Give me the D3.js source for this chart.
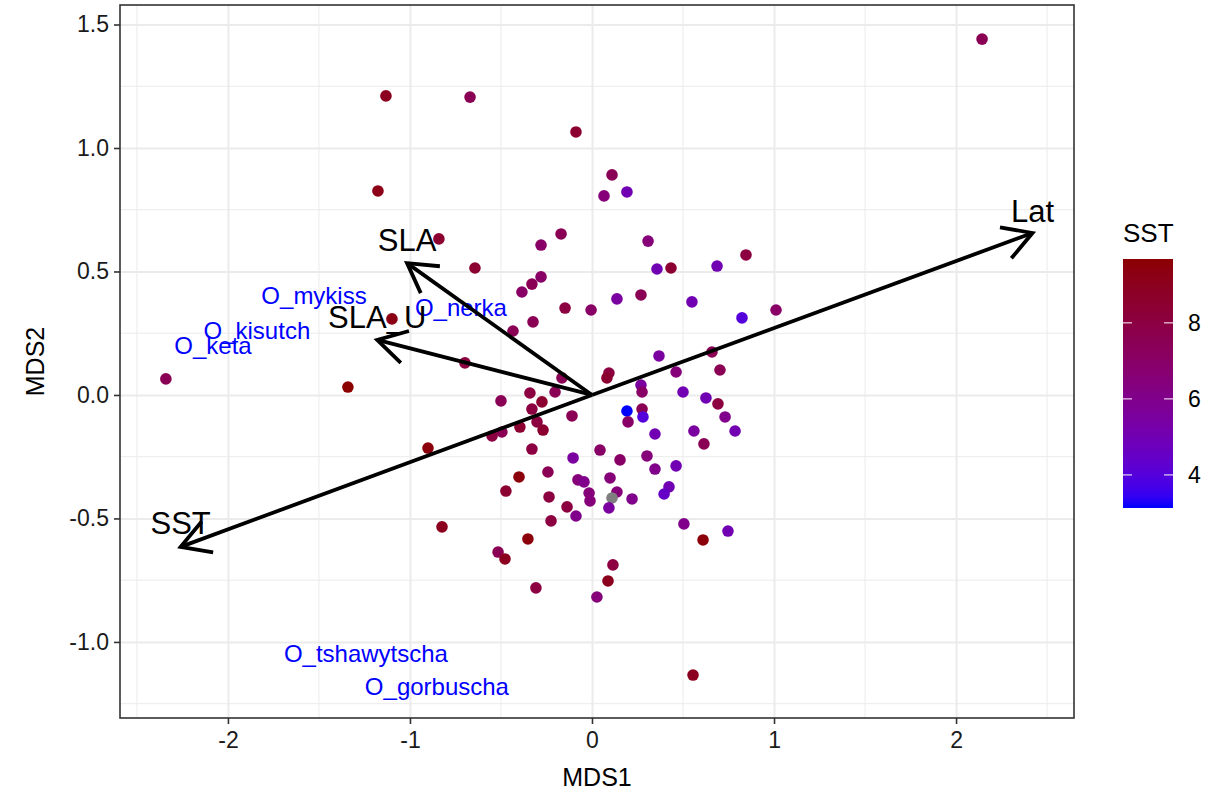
<!DOCTYPE html>
<html>
<head>
<meta charset="utf-8">
<script src="https://cdn.jsdelivr.net/npm/d3@7"></script>
<style>
  body { margin: 0; background: #fff; }
  text { font-family: "Liberation Sans", Arial, sans-serif; }
</style>
</head>
<body>
<div id="chart"></div>
<script>
// site scores (MDS1, MDS2) and SST colour
var mds1 = [-1.132, -0.670, -0.088, -1.176, -0.841, -0.643, -0.280, -0.170, -0.330, -0.280,
  -0.385, -0.148, -0.005, -0.324, -0.434, -1.099, 0.110, 0.066, 0.192, 2.143,
  0.308, 0.357, 0.434, 0.687, 0.846, 0.137, 0.269, 0.549, 0.824, 1.011,
  0.368, 0.659, -2.341, -1.341, -0.698, -0.165, -0.341, -0.275, -0.500, -0.203,
  -0.330, -0.302, -0.269, -0.396, -0.495, -0.549, -0.110, -0.330, -0.901, -0.104,
  0.044, -0.401, -0.242, -0.077, -0.044, -0.473, -0.236, -0.016, -0.011, -0.137,
  -0.088, -0.225, -0.824, -0.352, -0.516, -0.478, -0.308, 0.027, 0.093, 0.082,
  0.462, 0.703, 0.269, 0.275, 0.500, 0.626, 0.692, 0.192, 0.275, 0.280,
  0.198, 0.731, 0.346, 0.560, 0.786, 0.615, 0.154, 0.302, 0.346, 0.462,
  0.099, 0.137, 0.110, 0.093, 0.220, 0.423, 0.396, 0.505, 0.610, 0.747,
  0.115, 0.088, 0.555]
var mds2 = [1.211, 1.206, 1.065, 0.826, 0.632, 0.514, 0.607, 0.652, 0.449, 0.478,
  0.417, 0.352, 0.344, 0.296, 0.259, 0.308, 0.891, 0.806, 0.822, 1.441,
  0.623, 0.510, 0.514, 0.522, 0.567, 0.389, 0.405, 0.377, 0.312, 0.344,
  0.158, 0.174, 0.065, 0.032, 0.130, 0.069, 0.008, -0.028, -0.024, 0.012,
  -0.057, -0.109, -0.142, -0.130, -0.150, -0.166, -0.085, -0.219, -0.215, -0.255,
  -0.223, -0.332, -0.312, -0.344, -0.352, -0.389, -0.413, -0.397, -0.429, -0.453,
  -0.490, -0.510, -0.534, -0.583, -0.636, -0.664, -0.781, -0.818, 0.089, 0.069,
  0.093, 0.101, 0.040, 0.012, 0.012, -0.012, -0.036, -0.065, -0.057, -0.089,
  -0.109, -0.089, -0.158, -0.146, -0.146, -0.198, -0.263, -0.247, -0.300, -0.287,
  -0.336, -0.393, -0.417, -0.457, -0.421, -0.372, -0.401, -0.522, -0.587, -0.551,
  -0.688, -0.753, -1.134]
var sst = [9.0, 7.5, 8.5, 9.2, 8.5, 8.5, 7.0, 7.5, 7.5, 7.0,
  7.0, 8.0, 7.0, 7.5, 7.5, 9.3, 7.5, 6.5, 5.0, 7.5,
  6.5, 5.0, 8.5, 5.0, 8.0, 5.5, 7.5, 5.0, 4.0, 7.0,
  5.5, 7.5, 7.5, 9.68, 8.0, 7.5, 8.0, 8.5, 7.5, 7.5,
  8.0, 8.0, 8.5, 8.5, 7.5, 8.0, 7.5, 8.0, 9.5, 5.5,
  7.0, 9.5, 7.5, 6.5, 6.0, 8.5, 8.0, 6.5, 6.5, 8.0,
  6.0, 8.0, 9.0, 9.5, 7.5, 9.0, 8.0, 6.5, 8.0, 8.5,
  6.5, 7.5, 5.5, 7.0, 5.0, 5.0, 8.0, 3.13, 7.5, 4.0,
  7.0, 6.0, 5.0, 5.5, 5.0, 7.5, 7.0, 6.5, 6.0, 5.0,
  6.5, 6.5, null, 5.5, 6.0, 5.0, 4.5, 6.0, 9.5, 5.0,
  8.0, 9.0, 9.0]

// species scores
var species = ["O_mykiss", "O_kisutch", "O_keta", "O_nerka", "O_tshawytscha", "O_gorbuscha"]
var speciesX = [-1.527, -1.841, -2.082, -0.720, -1.242, -0.852]
var speciesY = [0.401, 0.259, 0.198, 0.352, -1.049, -1.182]

// environmental vectors
var envNames = ["Lat", "SST", "SLA", "SLA_U"]
var envX = [2.42, -2.26, -1.016, -1.18]
var envY = [0.656, -0.615, 0.534, 0.223]
var envLabelY = [0.745, -0.518, 0.628, 0.316]

var xTicks = [-2, -1, 0, 1, 2]
var yTicks = [-1.0, -0.5, 0.0, 0.5, 1.0, 1.5]
var legendTicks = [4, 6, 8]

var width = 1225, height = 795
var panel = { left: 120, right: 1074, top: 5, bottom: 718 }

var svg = d3.select("#chart")
  .append("svg")
  .attr("width", width)
  .attr("height", height)

var xScale = d3.scaleLinear()
  .domain([-2.593, 2.648])
  .range([panel.left, panel.right])

var yScale = d3.scaleLinear()
  .domain([-1.308, 1.579])
  .range([panel.bottom, panel.top])

var sstExtent = d3.extent(sst.filter(d => d != null))
var colour = d3.scaleLinear()
  .domain(sstExtent)
  .range(["blue", "darkred"])
  .interpolate(d3.interpolateLab)

// minor grid
var xMinor = d3.range(-2.5, 2.6, 1)
var yMinor = d3.range(-1.25, 1.6, 0.5)

svg.append("g")
  .selectAll("line")
  .data(xMinor)
  .enter()
  .append("line")
  .attr("x1", d => xScale(d)).attr("x2", d => xScale(d))
  .attr("y1", panel.top).attr("y2", panel.bottom)
  .attr("stroke", "#ebebeb").attr("stroke-width", 1)

svg.append("g")
  .selectAll("line")
  .data(yMinor)
  .enter()
  .append("line")
  .attr("y1", d => yScale(d)).attr("y2", d => yScale(d))
  .attr("x1", panel.left).attr("x2", panel.right)
  .attr("stroke", "#ebebeb").attr("stroke-width", 1)

// major grid
svg.append("g")
  .attr("transform", `translate(0,${panel.bottom})`)
  .attr("class", "grid")
  .call(d3.axisBottom(xScale).tickValues(xTicks).tickSize(-(panel.bottom - panel.top)).tickFormat(""))
  .call(g => g.select(".domain").remove())
  .selectAll("line")
  .attr("stroke", "#ebebeb").attr("stroke-width", 2)

svg.append("g")
  .attr("transform", `translate(${panel.left},0)`)
  .attr("class", "grid")
  .call(d3.axisLeft(yScale).tickValues(yTicks).tickSize(-(panel.right - panel.left)).tickFormat(""))
  .call(g => g.select(".domain").remove())
  .selectAll("line")
  .attr("stroke", "#ebebeb").attr("stroke-width", 2)

// points
svg.append("g")
  .selectAll("circle")
  .data(mds1.map((d, i) => ({ x: d, y: mds2[i], s: sst[i] })))
  .enter()
  .append("circle")
  .attr("cx", d => xScale(d.x))
  .attr("cy", d => yScale(d.y))
  .attr("r", 5.8)
  .attr("fill", d => d.s == null ? "#7f7f7f" : colour(d.s))

// species labels
svg.append("g")
  .selectAll("text")
  .data(species)
  .enter()
  .append("text")
  .attr("x", (d, i) => xScale(speciesX[i]))
  .attr("y", (d, i) => yScale(speciesY[i]))
  .attr("dy", "0.35em")
  .attr("text-anchor", "middle")
  .style("font-size", "24px")
  .style("fill", "blue")
  .text(d => d)

// arrows
var headLen = 33, headAng = Math.PI / 6
var arrowG = svg.append("g")
  .attr("stroke", "black")
  .attr("stroke-width", 3.8)
  .attr("fill", "none")
  .attr("stroke-linecap", "butt")

envNames.forEach((name, i) => {
  var x0 = xScale(0), y0 = yScale(0)
  var x1 = xScale(envX[i]), y1 = yScale(envY[i])
  var a = Math.atan2(y1 - y0, x1 - x0)
  arrowG.append("line")
    .attr("x1", x0).attr("y1", y0)
    .attr("x2", x1).attr("y2", y1)
  arrowG.append("path")
    .attr("d", d3.line()([
      [x1 - headLen * Math.cos(a - headAng), y1 - headLen * Math.sin(a - headAng)],
      [x1, y1],
      [x1 - headLen * Math.cos(a + headAng), y1 - headLen * Math.sin(a + headAng)]
    ]))
    .attr("stroke-linejoin", "miter")
})

svg.append("g")
  .selectAll("text")
  .data(envNames)
  .enter()
  .append("text")
  .attr("x", (d, i) => xScale(envX[i]))
  .attr("y", (d, i) => yScale(envLabelY[i]))
  .attr("dy", "0.35em")
  .attr("text-anchor", "middle")
  .style("font-size", "31px")
  .style("fill", "black")
  .text(d => d)

// panel border
svg.append("rect")
  .attr("x", panel.left).attr("y", panel.top)
  .attr("width", panel.right - panel.left)
  .attr("height", panel.bottom - panel.top)
  .attr("fill", "none")
  .attr("stroke", "#333333")
  .attr("stroke-width", 1.6)

// axes
var xAxis = svg.append("g")
  .attr("transform", `translate(0,${panel.bottom})`)
  .call(d3.axisBottom(xScale).tickValues(xTicks).tickSize(6).tickPadding(8).tickFormat(d3.format("d")))
xAxis.select(".domain").remove()
xAxis.selectAll("line").attr("stroke", "#333333").attr("stroke-width", 1.6)
xAxis.selectAll("text")
  .style("font-size", "23px")
  .style("font-family", "Liberation Sans, Arial, sans-serif")
  .style("fill", "#1a1a1a")
  .text(d => d3.format("d")(d).replace("−", "-"))

var yAxis = svg.append("g")
  .attr("transform", `translate(${panel.left},0)`)
  .call(d3.axisLeft(yScale).tickValues(yTicks).tickSize(6).tickPadding(5))
yAxis.select(".domain").remove()
yAxis.selectAll("line").attr("stroke", "#333333").attr("stroke-width", 1.6)
yAxis.selectAll("text")
  .style("font-size", "23px")
  .style("font-family", "Liberation Sans, Arial, sans-serif")
  .style("fill", "#1a1a1a")
  .text(d => d3.format(".1f")(d).replace("−", "-"))

svg.append("text")
  .attr("x", (panel.left + panel.right) / 2)
  .attr("y", 786)
  .attr("text-anchor", "middle")
  .style("font-size", "25px")
  .text("MDS1")

svg.append("text")
  .attr("transform", `translate(${44},${(panel.top + panel.bottom) / 2}) rotate(-90)`)
  .attr("text-anchor", "middle")
  .style("font-size", "25px")
  .text("MDS2")

// colour bar legend
var bar = { x: 1123, w: 50, top: 259, bottom: 508 }
var legendScale = d3.scaleLinear()
  .domain(sstExtent)
  .range([bar.bottom, bar.top])

var grad = svg.append("defs").append("linearGradient")
  .attr("id", "sstgrad")
  .attr("x1", 0).attr("y1", 1).attr("x2", 0).attr("y2", 0)
grad.selectAll("stop")
  .data(d3.range(0, 1.0001, 0.05))
  .enter()
  .append("stop")
  .attr("offset", d => d)
  .attr("stop-color", d => colour(sstExtent[0] + d * (sstExtent[1] - sstExtent[0])))

svg.append("rect")
  .attr("x", bar.x).attr("y", bar.top)
  .attr("width", bar.w).attr("height", bar.bottom - bar.top)
  .attr("fill", "url(#sstgrad)")

var legTicks = svg.append("g")
legendTicks.forEach(t => {
  var y = legendScale(t)
  legTicks.append("line")
    .attr("x1", bar.x).attr("x2", bar.x + 9).attr("y1", y).attr("y2", y)
    .attr("stroke", "white").attr("stroke-width", 1)
  legTicks.append("line")
    .attr("x1", bar.x + bar.w - 9).attr("x2", bar.x + bar.w).attr("y1", y).attr("y2", y)
    .attr("stroke", "white").attr("stroke-width", 1)
  legTicks.append("text")
    .attr("x", bar.x + bar.w + 15)
    .attr("y", y)
    .attr("dy", "0.35em")
    .style("font-size", "23px")
    .style("fill", "#000")
    .text(t)
})

svg.append("text")
  .attr("x", bar.x)
  .attr("y", 242)
  .style("font-size", "26px")
  .text("SST")
</script>
</body>
</html>
